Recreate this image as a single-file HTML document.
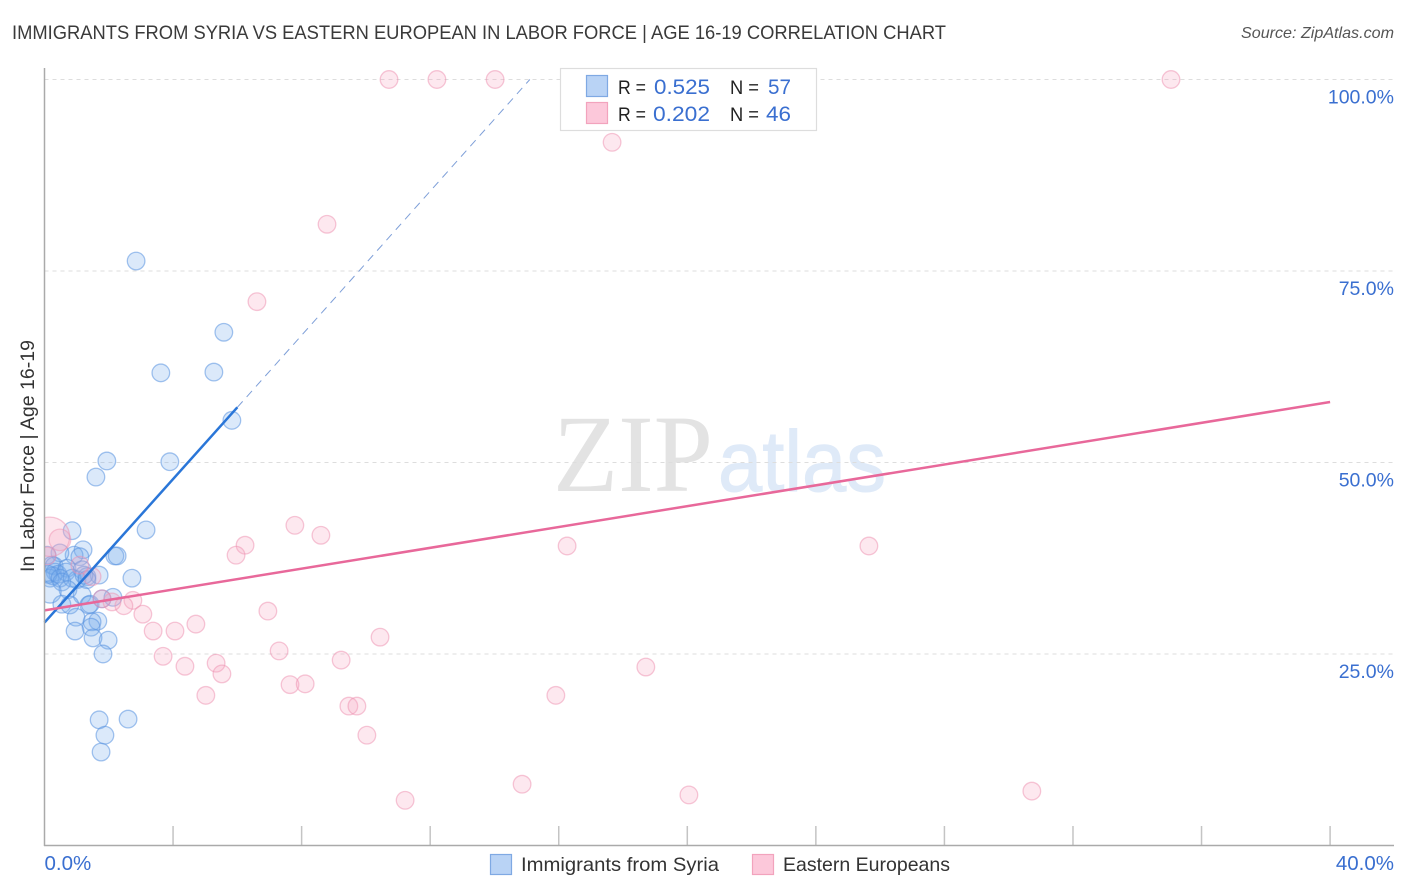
<!DOCTYPE html>
<html lang="en">
<head>
<meta charset="utf-8">
<title>Immigrants from Syria vs Eastern European in Labor Force | Age 16-19 Correlation Chart</title>
<style>
  html, body { margin: 0; padding: 0; background: #fff; }
  svg { display: block; font-family: "Liberation Sans", sans-serif; }
</style>
</head>
<body>
<svg id="chart" xmlns="http://www.w3.org/2000/svg" width="1406" height="892" viewBox="0 0 1406 892">
  <defs>
    <clipPath id="plot-clip"><rect x="44.5" y="60" width="1350" height="785.5"></rect></clipPath>
  </defs>
  <text x="12" y="39" font-size="19.5" fill="#3a3a3a" textLength="934" lengthAdjust="spacingAndGlyphs">IMMIGRANTS FROM SYRIA VS EASTERN EUROPEAN IN LABOR FORCE | AGE 16-19 CORRELATION CHART</text>
  <text x="1394" y="38" font-size="16" font-style="italic" fill="#555" text-anchor="end" textLength="153" lengthAdjust="spacingAndGlyphs">Source: ZipAtlas.com</text>
  <text x="553" y="491" font-family="'Liberation Serif', serif" font-size="110" fill="#e3e3e3" textLength="160" lengthAdjust="spacingAndGlyphs">ZIP</text>
  <text x="718" y="491" font-size="86" fill="#dfeaf8" stroke="#dfeaf8" stroke-width="1" textLength="168" lengthAdjust="spacingAndGlyphs">atlas</text>
  <g id="grid"></g>
  <g id="ticks"></g>
  <g id="points" clip-path="url(#plot-clip)"></g>
  <g id="trends"></g>
  <line x1="44.5" y1="68" x2="44.5" y2="846" stroke="#aaa" stroke-width="1.5"></line>
  <line x1="44" y1="845.5" x2="1394" y2="845.5" stroke="#aaa" stroke-width="1.5"></line>
  <g id="labels"></g>
  <text transform="translate(34,456) rotate(-90)" font-size="19.5" fill="#333" text-anchor="middle" textLength="232" lengthAdjust="spacingAndGlyphs">In Labor Force | Age 16-19</text>

  <g>
    <rect x="560.5" y="68.5" width="256" height="62" fill="#fff" stroke="#ddd" stroke-width="1.2"></rect>
    <rect x="586.5" y="75.5" width="21" height="21" fill="#b9d3f5" stroke="#7fa9e3" stroke-width="1.2"></rect>
    <rect x="586.5" y="102.5" width="21" height="21" fill="#fcc8da" stroke="#f2a3bd" stroke-width="1.2"></rect>
    <text x="618" y="94" font-size="19.5" fill="#222" textLength="28" lengthAdjust="spacingAndGlyphs">R =</text>
    <text x="654" y="94" font-size="21" fill="#3a6fd0" textLength="56" lengthAdjust="spacingAndGlyphs">0.525</text>
    <text x="730" y="94" font-size="19.5" fill="#222" textLength="29" lengthAdjust="spacingAndGlyphs">N =</text>
    <text x="768" y="94" font-size="21" fill="#3a6fd0" textLength="23" lengthAdjust="spacingAndGlyphs">57</text>
    <text x="618" y="121" font-size="19.5" fill="#222" textLength="28" lengthAdjust="spacingAndGlyphs">R =</text>
    <text x="653" y="121" font-size="21" fill="#3a6fd0" textLength="57" lengthAdjust="spacingAndGlyphs">0.202</text>
    <text x="730" y="121" font-size="19.5" fill="#222" textLength="29" lengthAdjust="spacingAndGlyphs">N =</text>
    <text x="766" y="121" font-size="21" fill="#3a6fd0" textLength="25" lengthAdjust="spacingAndGlyphs">46</text>
  </g>

  <g>
    <rect x="490.5" y="854.5" width="21" height="20" fill="#b9d3f5" stroke="#7fa9e3" stroke-width="1.2"></rect>
    <text x="521" y="871" font-size="19.5" fill="#333" textLength="198" lengthAdjust="spacingAndGlyphs">Immigrants from Syria</text>
    <rect x="752.5" y="854.5" width="21" height="20" fill="#fcc8da" stroke="#f2a3bd" stroke-width="1.2"></rect>
    <text x="783" y="871" font-size="19.5" fill="#333" textLength="167" lengthAdjust="spacingAndGlyphs">Eastern Europeans</text>
  </g>
</svg>
<script>
const yTickValues = [25, 50, 75, 100];
const yTickLabels = ["25.0%", "50.0%", "75.0%", "100.0%"];
const xTickValues = [4, 8, 12, 16, 20, 24, 28, 32, 36, 40];
const xEndValues = [0, 40];
const xEndLabels = ["0.0%", "40.0%"];

const syriaShare = [2.85,5.58,3.62,5.27,5.83,1.94,3.90,1.60,3.16,0.86,1.20,2.19,2.26,0.92,1.10,0.48,0.08,0.23,0.30,1.70,2.72,0.33,0.42,0.17,0.26,0.11,0.70,0.67,1.17,1.01,1.32,0.48,0.54,0.86,1.23,1.32,0.73,1.17,0.17,0.54,0.79,1.38,1.42,1.79,2.13,0.98,1.66,1.48,1.45,0.95,1.51,1.98,1.82,1.70,2.60,1.88,1.76];
const syriaRate = [76.3,67.0,61.7,61.8,55.5,50.2,50.1,48.1,41.2,41.1,38.6,37.8,37.8,37.9,37.7,38.2,37.9,36.6,36.5,35.3,34.9,35.7,35.4,34.9,35.2,35.4,36.2,35.7,36.0,34.7,35.1,34.9,34.4,34.9,35.3,34.7,33.4,32.7,33.1,31.5,31.4,31.4,31.5,32.2,32.4,29.8,29.3,29.2,28.5,28.0,27.1,26.8,25.0,16.4,16.5,14.4,12.2];
const syriaWeight = [1,1,1,1,1,1,1,1,1,1,1,1,1,1,1,1,1,1,1,1,1,1,1,1,1,1,1,1,1,1,1,1,1,1,1,1,1,1,1.6,1,1,1,1,1,1,1,1,1,1,1,1,1,1,1,1,1,1];

const easternShare = [10.72,12.21,14.02,35.05,17.66,8.79,6.61,7.79,8.60,6.24,5.96,16.26,25.65,6.95,10.44,7.30,9.23,18.71,5.34,5.52,4.37,5.02,15.91,7.64,8.11,9.47,9.72,10.03,11.22,14.86,20.05,30.72,3.69,3.38,4.06,4.71,3.06,2.75,2.47,2.10,1.79,1.48,1.10,0.08,0.48,0.17];
const easternRate = [100,100,100,100,91.8,81.1,71.0,41.8,40.5,39.2,37.9,39.1,39.1,30.6,27.2,25.4,24.2,23.3,23.8,22.4,23.4,19.6,19.6,21.0,21.1,18.2,18.2,14.4,5.9,8.0,6.6,7.1,24.7,28.0,28.0,28.9,30.2,32.0,31.3,31.8,32.2,35.1,36.6,37.8,39.9,40.3];
const easternWeight = [1,1,1,1,1,1,1,1,1,1,1,1,1,1,1,1,1,1,1,1,1,1,1,1,1,1,1,1,1,1,1,1,1,1,1,1,1,1,1,1,1,1,1,1,1.5,5];

const syriaTrendX = [0, 6];
const syriaTrendY = [29.1, 57.2];
const syriaTrendExtX = [6, 15.1];
const syriaTrendExtY = [57.2, 100];
const easternTrendX = [0, 40];
const easternTrendY = [30.7, 57.9];

const NS = "http://www.w3.org/2000/svg";
function xScale(v) { return 44.5 + v * 32.14; }
function yScale(v) { return 845.5 - v * 7.66; }
function rScale(w) { return 8.8 * Math.sqrt(w); }

function make(parent, tag, attrs) {
  const el = document.createElementNS(NS, tag);
  Object.keys(attrs).forEach(function (k) { el.setAttribute(k, attrs[k]); });
  document.getElementById(parent).appendChild(el);
  return el;
}

yTickValues.forEach(function (v, i) {
  const line = make("grid", "line", { x1: 44.5, x2: 1394, y1: yScale(v), y2: yScale(v), stroke: "#ddd", "stroke-width": 1, "stroke-dasharray": "4 4" });
  
  
  const label = make("labels", "text", { x: 1394, y: yScale(v) + 24, "font-size": 19.5, fill: "#3a6fd0", "text-anchor": "end" });
  
  
  label.textContent = yTickLabels[i];
});

xTickValues.forEach(function (v) {
  const tick = make("ticks", "line", { x1: xScale(v), x2: xScale(v), y1: 826, y2: 845.5, stroke: "#c4c4c4", "stroke-width": 1.5 });
  
  
});

xEndValues.forEach(function (v, i) {
  const label = make("labels", "text", { x: i === 0 ? xScale(v) : 1394, y: 870, "font-size": 20.5, fill: "#3a6fd0", "text-anchor": i === 0 ? "start" : "end" });
  
  
  label.textContent = xEndLabels[i];
});

syriaShare.forEach(function (v, i) {
  const dot = make("points", "circle", { cx: xScale(v), cy: yScale(syriaRate[i]), r: rScale(syriaWeight[i]), fill: "#7aaeee", "fill-opacity": 0.27, stroke: "#5a94e0", "stroke-opacity": 0.55, "stroke-width": 1.3 });
  
  
});

easternShare.forEach(function (v, i) {
  const dot = make("points", "circle", { cx: xScale(v), cy: yScale(easternRate[i]), r: rScale(easternWeight[i]), fill: "#f7a5c0", "fill-opacity": 0.25, stroke: "#ee8fb0", "stroke-opacity": 0.5, "stroke-width": 1.3 });
  
  
});

const extLine = make("trends", "line", { x1: xScale(syriaTrendExtX[0]), y1: yScale(syriaTrendExtY[0]), x2: xScale(syriaTrendExtX[1]), y2: yScale(syriaTrendExtY[1]), stroke: "#7e9fd8", "stroke-width": 1, "stroke-dasharray": "8 6" });



const syriaLine = make("trends", "line", { x1: xScale(syriaTrendX[0]), y1: yScale(syriaTrendY[0]), x2: xScale(syriaTrendX[1]), y2: yScale(syriaTrendY[1]), stroke: "#2a76d8", "stroke-width": 2.5 });



const easternLine = make("trends", "line", { x1: xScale(easternTrendX[0]), y1: yScale(easternTrendY[0]), x2: xScale(easternTrendX[1]), y2: yScale(easternTrendY[1]), stroke: "#e8689a", "stroke-width": 2.5 });


</script>
</body>
</html>
